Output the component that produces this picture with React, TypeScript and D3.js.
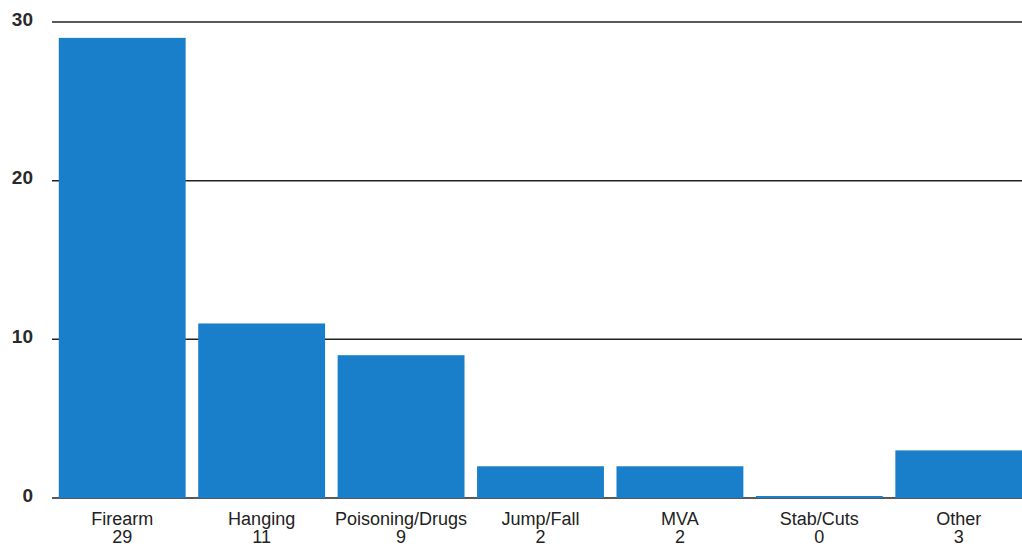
import React from "react";
import * as d3 from "d3";

const categories = ["Firearm", "Hanging", "Poisoning/Drugs", "Jump/Fall", "MVA", "Stab/Cuts", "Other"];
const values = [29, 11, 9, 2, 2, 0, 3];
const yTicks = [0, 10, 20, 30];

export default function App() {
  const W = 1022, H = 549;
  const x = d3.scaleBand<string>().domain(categories).range([52.5, 1028.5]).paddingInner(0.09).paddingOuter(0.045);
  const y = d3.scaleLinear().domain([0, 30]).range([498, 22]);
  const font = "'Liberation Sans', Arial, Helvetica, sans-serif";
  return (
    <svg width={W} height={H} style={{ position: "absolute", left: 0, top: 0, background: "#fff" }}>
      {yTicks.map((t) => (
        <g key={t}>
          <line x1={52} x2={W} y1={y(t)} y2={y(t)} stroke="#222" strokeWidth={1.5} />
          <text x={33} y={y(t) + 3.5} textAnchor="end" fontFamily={font} fontSize={19} fontWeight={600} fill="#2a2a2a">{t}</text>
        </g>
      ))}
      {categories.map((c, i) => {
        const h = Math.max(y(0) - y(values[i]), 2);
        return (
          <rect key={c} x={x(c)} y={y(0) - h} width={x.bandwidth()} height={h} fill="#1a7fca" />
        );
      })}
      {categories.map((c, i) => (
        <g key={"l" + c} fontFamily={font} fontSize={18} fill="#222" textAnchor="middle">
          <text x={(x(c) as number) + x.bandwidth() / 2} y={525}>{c}</text>
          <text x={(x(c) as number) + x.bandwidth() / 2} y={543}>{values[i]}</text>
        </g>
      ))}
    </svg>
  );
}
